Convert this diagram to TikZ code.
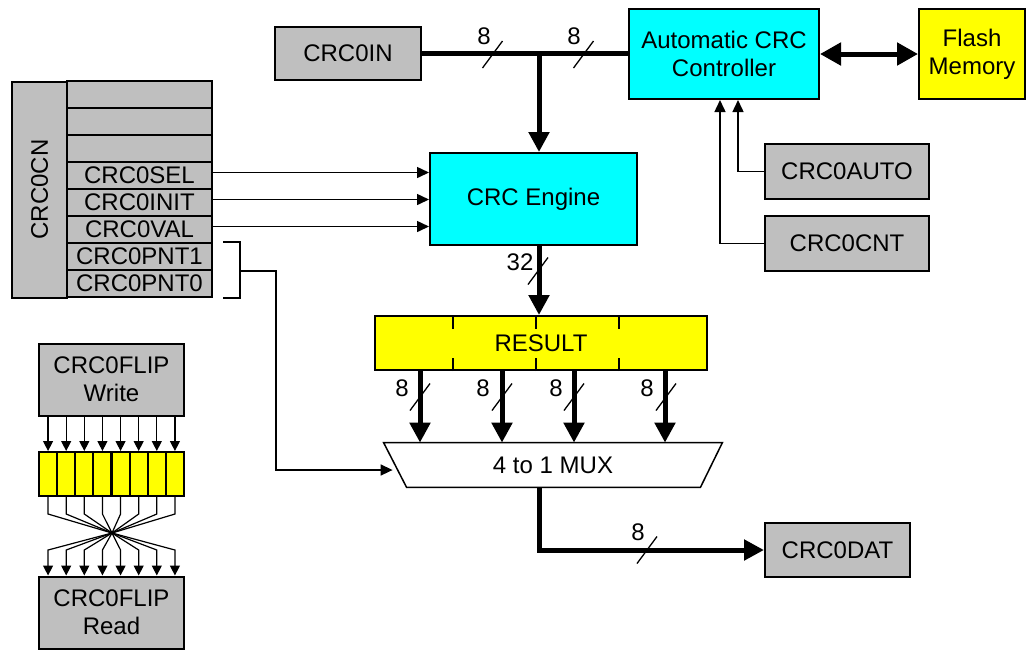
\documentclass[tikz,border=0pt]{standalone}
\usepackage{fontspec}
\setmainfont{Liberation Sans}
\usetikzlibrary{arrows.meta,calc}
\definecolor{engcyan}{RGB}{0,255,255}
\definecolor{memyellow}{RGB}{255,255,0}
\tikzstyle{reg} = [draw=black, line width=1pt, fill=black!25, text centered, inner sep=0pt]
\tikzstyle{ctrl} = [reg, fill=engcyan]
\tikzstyle{mem} = [reg, fill=memyellow]
\tikzstyle{busline} = [line width=2.5pt]
\tikzstyle{bus} = [busline, -{Triangle[length=10pt,width=10pt]}]
\tikzstyle{sig} = [line width=0.75pt, -{Triangle[length=6pt,width=5.5pt]}]
\tikzstyle{bit} = [line width=0.6pt, -{Triangle[length=5pt,width=5pt]}]
\tikzstyle{slash} = [line width=0.65pt]
\newcommand{\buswidth}[4]{%
  \draw[slash] ($#2+(-10,13.5)$) -- ($#2+(10,-13.5)$);
  \node (#1) at ($#2+#3$) {#4};}

\begin{document}
\begin{tikzpicture}[x=0.5pt, y=-0.5pt, every node/.style={font=\fontsize{12}{14}\selectfont}]
\useasboundingbox (0,0) rectangle (1027,650);

% top row
\node (crcin)[reg, minimum width=73pt, minimum height=26.5pt] at (348,53.5) {CRC0IN};
\node (autoctl)[ctrl, minimum width=95pt, minimum height=45pt, align=center] at (724,54) {Automatic CRC\\Controller};
\node (flash)[mem, minimum width=53pt, minimum height=45pt, align=center] at (972,54) {Flash\\Memory};
\node (engine)[ctrl, minimum width=103.5pt, minimum height=46pt] at (533.5,199) {CRC Engine};
\node (crcauto)[reg, minimum width=82pt, minimum height=27.5pt] at (847,171.5) {CRC0AUTO};
\node (crccnt)[reg, minimum width=82pt, minimum height=27.5pt] at (847,243.5) {CRC0CNT};
\node (result)[mem, minimum width=166pt, minimum height=27pt] at (541,343) {RESULT};
\node (crcdat)[reg, minimum width=72.5pt, minimum height=27pt] at (837.5,550) {CRC0DAT};

% mux
\node (mux)[minimum width=169pt, minimum height=22pt, inner sep=0pt] at (553,465) {4 to 1 MUX};
\draw[line width=0.75pt] (mux.north west) -- (mux.north east) -- ([xshift=-11pt]mux.south east)
  -- ([xshift=11.5pt]mux.south west) -- cycle;

% result slices
\foreach \x in {453,536,619} {
  \draw[line width=1pt] (\x,0 |- result.north) -- ++(0,14);
  \draw[line width=1pt] (\x,0 |- result.south) -- ++(0,-13);
}

% CRC0CN register
\node (crccn)[reg, minimum width=108pt, minimum height=27.5pt, rotate=90] at (39.5,189.5) {CRC0CN};
\foreach \name/\txt [count=\i] in {ra/,rb/,rc/,sel/CRC0SEL,init/CRC0INIT,val/CRC0VAL,pnt1/CRC0PNT1,pnt0/CRC0PNT0}
  \node (\name)[reg, minimum width=72.5pt, minimum height=13.5pt] at (139.5,{81+27*(\i-0.5)}) {\txt};

% buses
\coordinate (tap) at (539,53.5);
\draw[busline] (crcin.east) -- (crcin.east -| autoctl.west);
\draw[busline, {Triangle[length=10.5pt,width=11pt]}-{Triangle[length=10.5pt,width=11pt]}] (autoctl.east) -- (flash.west);
\draw[bus] (tap) -- (tap |- engine.north);
\draw[bus] (tap |- engine.south) -- (tap |- result.north);
\foreach \x in {420,502,574,665}
  \draw[bus] (\x,0 |- result.south) -- (\x,0 |- mux.north);
\draw[bus] (mux.south -| tap) |- (crcdat.west);

% bus widths
\buswidth{wa}{(492.5,54.5)}{(-8.5,-18.5)}{8}
\buswidth{wb}{(583.5,54.5)}{(-9.5,-18.5)}{8}
\buswidth{wc}{(538,271)}{(-18,-9)}{32}
\buswidth{wd}{(420,397)}{(-18,-9)}{8}
\buswidth{we}{(502,397)}{(-19,-9)}{8}
\buswidth{wf}{(574,397)}{(-18,-9)}{8}
\buswidth{wg}{(666,397)}{(-19,-9)}{8}
\buswidth{wh}{(647,550)}{(-9,-18)}{8}

% control signals
\draw[sig] ([yshift=1.5pt]sel.east) -- ([yshift=1.5pt]sel.east -| engine.west);
\draw[sig] ([yshift=1.5pt]init.east) -- ([yshift=1.5pt]init.east -| engine.west);
\draw[sig] ([yshift=1.5pt]val.east) -- ([yshift=1.5pt]val.east -| engine.west);
\draw[sig] (crcauto.west) -| ([xshift=7pt]autoctl.south);
\draw[sig] (crccnt.west) -| ([xshift=-2pt]autoctl.south);

% pointer select
\draw[line width=0.75pt] ([xshift=5pt]pnt1.north east) -| ([xshift=13.5pt]pnt0.south east) -- ([xshift=5pt]pnt0.south east);
\coordinate (brk) at ([xshift=13.5pt]pnt1.south east);
\draw[sig] (brk) -- ++(36,0) |- ([xshift=4.5pt,yshift=-2.5pt]mux.west);

% flip register
\node (fwrite)[reg, minimum width=72.5pt, minimum height=36pt, align=center] at (111.5,379.5) {CRC0FLIP\\Write};
\node (fread)[reg, minimum width=72.5pt, minimum height=36pt, align=center] at (111.5,612.5) {CRC0FLIP\\Read};
\foreach \i in {0,...,7}
  \node (b\i)[mem, minimum width=9.06pt, minimum height=22pt] at ({48.06+18.125*\i},474) {};
\coordinate (cross) at (112,533);
\foreach \i in {0,...,7} {
  \pgfmathtruncatemacro{\j}{7-\i}
  \draw[bit] (b\i |- fwrite.south) -- (b\i.north);
  \draw[bit] (b\i.south) -- ++(0,17) -- (cross) -- (b\j |- 0,550) -- (b\j |- fread.north);
}
\end{tikzpicture}
\end{document}
